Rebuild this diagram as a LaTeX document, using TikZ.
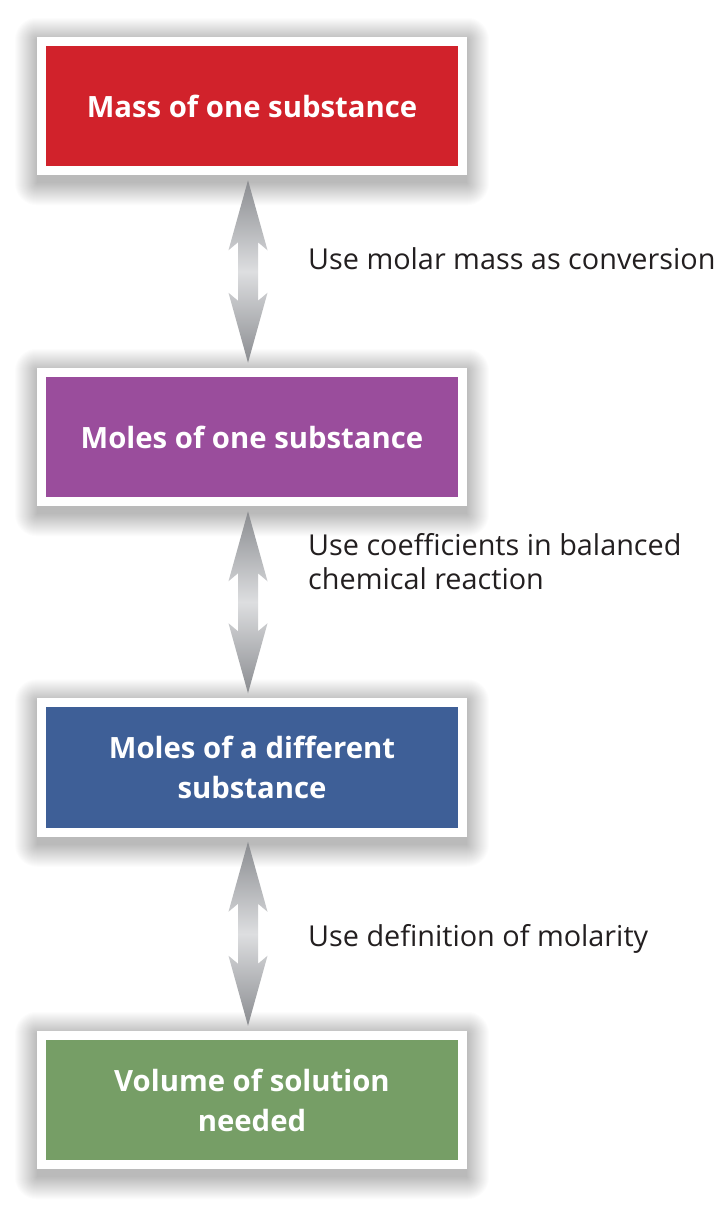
\documentclass[tikz,border=0pt]{standalone}
\usepackage{fontspec}
\setmainfont{Open Sans}
\usetikzlibrary{calc,backgrounds}
\definecolor{cred}{HTML}{D1222B}
\definecolor{cpurple}{HTML}{9A4D9C}
\definecolor{cblue}{HTML}{3E5F97}
\definecolor{cgreen}{HTML}{769E66}
\definecolor{ctext}{HTML}{231F20}
\definecolor{adark}{HTML}{8A8C90}
\definecolor{alight}{HTML}{DDDEE0}
\newcommand\dblarrow[2]{%
  \shade[top color=adark, bottom color=adark, middle color=alight]
  let \p1=($(#1.south)+(-4,5)$), \p2=($(#2.north)+(-4,-5)$) in
  (\x1,\y1) -- (\x1+19.5pt,\y1-70pt) -- (\x1+10pt,\y1-62pt) -- (\x1+10pt,\y2+62pt)
  -- (\x1+19.5pt,\y2+70pt) -- (\x1,\y2) -- (\x1-19.5pt,\y2+70pt) -- (\x1-10pt,\y2+62pt)
  -- (\x1-10pt,\y1-62pt) -- (\x1-19.5pt,\y1-70pt) -- cycle;}
\newcommand\softshadow[1]{%
  \foreach \k in {0,1,...,22}{%
    \fill[black, opacity=0.013, rounded corners=\k pt]
      ($(#1.north west)+(-\k,-\k+3)$) rectangle ($(#1.south east)+(\k,\k+8)$);}}
\begin{document}
\begin{tikzpicture}[x=1pt,y=-1pt,
  stepbox/.style={draw=white, line width=9pt, minimum width=421pt, minimum height=129.5pt,
    inner sep=0pt, align=center, text=white, font=\bfseries\fontsize{29.3}{40}\selectfont},
  lab/.style={anchor=base west, inner sep=0pt, text=ctext, align=left,
    font=\fontsize{28.8}{34}\selectfont}]
\useasboundingbox (0,0) rectangle (720,1208);
\node[stepbox, fill=cred] (mass) at (252,106) {Mass of one substance};
\node[stepbox, fill=cpurple] (moles1) at (252,437) {Moles of one substance};
\node[stepbox, fill=cblue] (moles2) at (252,767.5) {Moles of a different\\substance};
\node[stepbox, fill=cgreen] (vol) at (252,1100) {Volume of solution\\needed};
\begin{scope}[on background layer]
\fill[white] (0,0) rectangle (720,1208);
\softshadow{mass}
\softshadow{moles1}
\softshadow{moles2}
\softshadow{vol}
\end{scope}
\dblarrow{mass}{moles1}
\dblarrow{moles1}{moles2}
\dblarrow{moles2}{vol}
\node[lab] (l1) at (308,269) {Use molar mass as conversion};
\node[lab] (l2) at (308,589) {Use coefficients in balanced\\chemical reaction};
\node[lab] (l3) at (308,946) {Use definition of molarity};
\end{tikzpicture}
\end{document}
